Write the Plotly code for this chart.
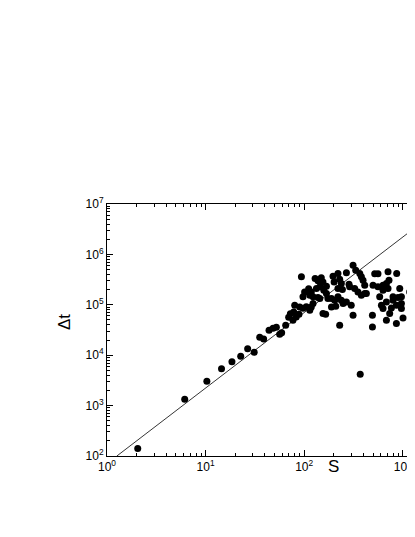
import plotly.graph_objects as go

# event size S and waiting time dt
s_vals = [
    2.05, 6.14, 10.3, 14.5, 18.5, 22.7, 26.7, 31.1, 35.4, 38.8,
    44.0, 48.3, 52.2, 56.4, 59.1, 64.9, 69.6, 72.4, 78.3, 83.0,
    76.9, 88.5, 97.2, 105, 114, 90.0, 80.1, 118,
    93.7, 101, 111, 118, 123, 129, 138, 149, 155, 144,
    133, 158, 168, 138, 123, 165, 155, 174, 168, 189,
    204, 220, 238, 248, 189, 209, 229, 196, 220, 201,
    229, 268, 285, 244, 220, 313, 333, 366, 380, 395,
    411, 325, 351, 380, 411, 300, 370, 427, 289, 268,
    313, 238, 114, 97.2, 144,
    519, 560, 708, 867, 499, 560, 630, 682, 724, 708,
    630, 931, 583, 682, 796, 968, 861, 766, 607, 630,
    736, 968, 968, 1175, 1222, 1268, 1268, 492, 492, 682,
    861, 1005, 894, 796, 1222,
]
dt_vals = [
    141, 1330, 3030, 5370, 7400, 9500, 13500, 11400, 22700, 20900,
    31300, 34300, 35900, 26000, 27900, 39300, 56600, 66500, 72300, 57500,
    49400, 65000, 85500, 91600, 78100, 90800, 98200, 90800,
    359000, 180000, 209000, 180000, 144000, 333000, 301000, 346000, 285000, 227000,
    211000, 195000, 168000, 140000, 106000, 65000, 67100, 133000, 234000, 133000,
    123000, 144000, 123000, 106000, 90800, 93800, 39300, 370000, 419000, 285000,
    323000, 431000, 257000, 201000, 211000, 612000, 487000, 419000, 359000, 308000,
    245000, 211000, 180000, 155000, 168000, 98200, 4170, 168000, 227000, 114000,
    62100, 265000, 155000, 144000, 133000,
    415000, 415000, 451000, 419000, 245000, 227000, 245000, 265000, 308000, 211000,
    195000, 211000, 144000, 114000, 144000, 144000, 98200, 86700, 98200, 84300,
    67100, 106000, 84300, 180000, 285000, 387000, 671000, 62100, 36400, 49400,
    42500, 54900, 140000, 123000, 123000,
]

# power-law guide line (slope ~1.5)
line_s = [1.259, 1330]
line_dt = [100, 3.39e6]

x_ticks = [1, 10, 100, 1000]
x_labels = ["10<sup>0</sup>", "10<sup>1</sup>", "10<sup>2</sup>", "10<sup>3</sup>"]
y_ticks = [1e2, 1e3, 1e4, 1e5, 1e6, 1e7]
y_labels = ["10<sup>%d</sup>" % k for k in range(2, 8)]

minor_vals = [m * 10 ** d for d in range(-1, 8) for m in range(2, 10)]

# page body keeps an 8px margin; keep the figure short enough to avoid a scrollbar
W, H = 407, 510
ML, MR, MT, MB = 99, 0, 196, 62
FONT = "Liberation Sans, Arial"

fig = go.Figure()
fig.add_trace(go.Scatter(x=line_s, y=line_dt, mode="lines",
                         line=dict(color="black", width=0.8), hoverinfo="skip"))
fig.add_trace(go.Scatter(x=s_vals, y=dt_vals, mode="markers",
                         marker=dict(color="black", size=7)))

axis_style = dict(
    showgrid=False, zeroline=False, showline=True, linecolor="black", linewidth=1,
    ticks="inside", ticklen=6, tickcolor="black", tickwidth=1,
    tickfont=dict(family=FONT, size=12, color="black"),
    minor=dict(ticks="inside", ticklen=3, tickcolor="black", tickwidth=1,
               tickvals=minor_vals, showgrid=False),
)

pw, ph = W - ML - MR, H - MT - MB
fig.update_xaxes(type="log", range=[0, pw / 98.6], tickvals=x_ticks, ticktext=x_labels,
                 mirror="allticks", **axis_style)
fig.update_yaxes(type="log", range=[2, 7], tickvals=y_ticks, ticktext=y_labels,
                 mirror=False, **axis_style)


def paper_xy(px, py):
    # window pixel -> paper fraction
    return (px - 8 - ML) / pw, (H - MB - (py - 8)) / ph


sx, sy = paper_xy(333, 466)
fig.add_annotation(text="S", x=sx, y=sy, xref="paper", yref="paper", showarrow=False,
                   xanchor="center", yanchor="middle",
                   font=dict(family=FONT, size=17, color="black"))
tx, ty = paper_xy(64, 322)
fig.add_annotation(text="\u0394t", x=tx, y=ty, xref="paper", yref="paper",
                   showarrow=False, textangle=-90, xanchor="center", yanchor="middle",
                   font=dict(family=FONT, size=17, color="black"))

fig.update_layout(
    width=W, height=H,
    margin=dict(l=ML, r=MR, t=MT, b=MB),
    paper_bgcolor="white", plot_bgcolor="white",
    showlegend=False,
)

fig.write_html("out.html")
